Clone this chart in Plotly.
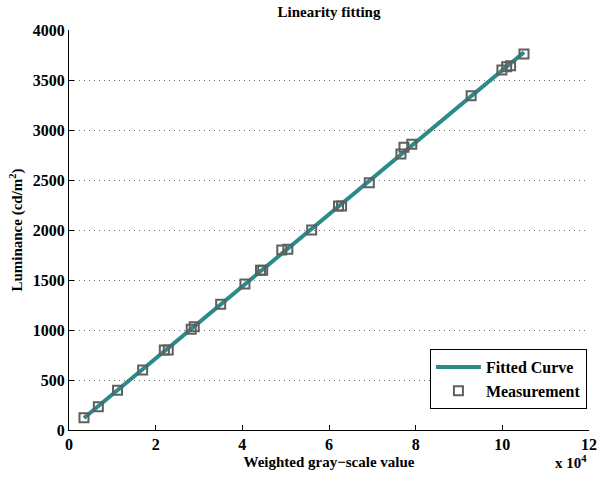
import numpy as np
import plotly.graph_objects as go

# Measured weighted gray-scale values and luminance (cd/m^2)
gray_values = [3460, 6770, 11200, 17000, 22000, 22900, 28200, 28900, 35000,
               40600, 44200, 44700, 49100, 50500, 56000, 62200, 62900, 69300,
               76600, 77300, 79100, 92800, 99900, 101000, 101900, 105000]
luminance = [123, 233, 397, 600, 800, 800, 1007, 1033, 1257,
             1460, 1597, 1597, 1800, 1807, 2000, 2240, 2240, 2473,
             2760, 2827, 2857, 3343, 3600, 3633, 3643, 3760]

x_tick_vals = [0, 20000, 40000, 60000, 80000, 100000, 120000]
x_tick_text = ["0", "2", "4", "6", "8", "10", "12"]
y_tick_vals = [0, 500, 1000, 1500, 2000, 2500, 3000, 3500, 4000]

# Least-squares linear fit of the measurements
slope, intercept = np.polyfit(gray_values, luminance, 1)
fit_x = np.array([min(gray_values), max(gray_values)])
fit_y = slope * fit_x + intercept

FONT = "Liberation Serif"
TEAL = "#2a8a8c"
bold = lambda size: dict(family=FONT, size=size, color="black", weight="bold")

fig = go.Figure()
fig.add_trace(go.Scatter(
    x=fit_x, y=fit_y, mode="lines", name="<b>Fitted Curve</b>",
    line=dict(color=TEAL, width=4),
))
fig.add_trace(go.Scatter(
    x=gray_values, y=luminance, mode="markers", name="<b>Measurement</b>",
    marker=dict(symbol="square-open", size=9, color="#5f5f5f",
                line=dict(width=2, color="#5f5f5f")),
))

fig.update_layout(
    width=597, height=479,
    margin=dict(l=69, r=8, t=30, b=49, autoexpand=False),
    paper_bgcolor="white", plot_bgcolor="white",
    font=bold(15),
    title=dict(text="<b>Linearity fitting</b>", x=(69 + 260) / 597, xanchor="center",
               y=1 - 12 / 479, yanchor="middle", font=bold(15)),
    xaxis=dict(
        range=[0, 120000], tickvals=x_tick_vals,
        ticktext=[f"<b>{t}</b>" for t in x_tick_text],
        showgrid=False, zeroline=False, showline=True, linecolor="black", linewidth=1,
        ticks="inside", ticklen=5, tickcolor="black", automargin=False,
        tickfont=bold(16),
        title=dict(text="<b>Weighted gray\u2212scale value</b>", font=bold(15), standoff=4),
    ),
    yaxis=dict(
        range=[0, 4000], tickvals=y_tick_vals,
        ticktext=[f"<b>{v}</b>" for v in y_tick_vals],
        showgrid=True, gridcolor="#707070", griddash="1px,4px", gridwidth=1,
        zeroline=False, showline=True, linecolor="black", linewidth=1,
        ticks="inside", ticklen=5, tickcolor="black", automargin=False,
        tickfont=bold(16),
        title=dict(text="<b>Luminance (cd/m<sup>2</sup>)</b>", font=bold(15), standoff=6),
    ),
    legend=dict(
        x=0.996, y=0.0525, xanchor="right", yanchor="bottom",
        bordercolor="black", borderwidth=1, bgcolor="white",
        font=bold(16), tracegroupgap=2, itemwidth=45,
    ),
    showlegend=True,
)

fig.add_annotation(
    text="<b>x 10<sup>4</sup></b>", xref="paper", yref="paper",
    x=1.0, y=-0.08, xanchor="right", yanchor="middle",
    showarrow=False, font=bold(15),
)

fig.write_html("out.html")
